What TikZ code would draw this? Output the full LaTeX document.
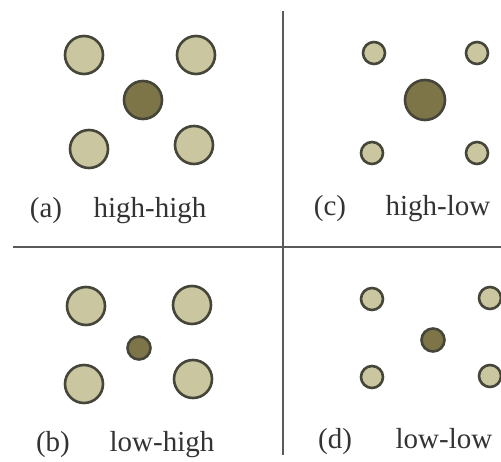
\documentclass[tikz,border=0pt]{standalone}
\usepackage{fontspec}
\setmainfont{Liberation Serif}
\usetikzlibrary{positioning}
\definecolor{grainlight}{HTML}{C9C6A0}
\definecolor{graindark}{HTML}{7D7548}
\definecolor{grainedge}{HTML}{45453A}
\definecolor{divider}{HTML}{5A5A5A}
\definecolor{labelgray}{HTML}{333333}

\begin{document}
\begin{tikzpicture}[x=1pt, y=-1pt,
    grain/.style={fill=grainlight, draw=grainedge, line width=2.6pt},
    core/.style={fill=graindark, draw=grainedge, line width=2.6pt},
    lbl/.style={anchor=base, text=labelgray, inner sep=0pt, font=\fontsize{29}{32}\selectfont}]
  \useasboundingbox (0,0) rectangle (501,462);

  % Trennlinien
  \draw[line width=2pt, divider] (283,11) -- (283,455);
  \draw[line width=2pt, divider] (13,247) -- (501,247);

  % (a) high-high
  \draw[grain] (84,55) circle (19);
  \draw[grain] (196,55) circle (19);
  \draw[core] (143,100) circle (19);
  \draw[grain] (89,149) circle (19);
  \draw[grain] (194,145) circle (19);
  \node[lbl] (tagA) at (46,218) {(a)};
  \node[lbl] (nameA) at (150,218) {high-high};

  % (c) high-low
  \draw[grain] (374,53) circle (11);
  \draw[grain] (477,53) circle (11);
  \draw[core] (425,100) circle (20);
  \draw[grain] (372,153) circle (11);
  \draw[grain] (477,153) circle (11);
  \node[lbl] (tagC) at (330,216) {(c)};
  \node[lbl] (nameC) at (438,216) {high-low};

  % (b) low-high
  \draw[grain] (86,306) circle (19);
  \draw[grain] (192,305) circle (19);
  \draw[core] (139,348) circle (11.5);
  \draw[grain] (84,384) circle (19);
  \draw[grain] (193,379) circle (19);
  \node[lbl] (tagB) at (53,451) {(b)};
  \node[lbl] (nameB) at (162,451) {low-high};

  % (d) low-low
  \draw[grain] (372,299) circle (11);
  \draw[grain] (490,298) circle (11);
  \draw[core] (433,340) circle (11.5);
  \draw[grain] (372,377) circle (11);
  \draw[grain] (490,376) circle (11);
  \node[lbl] (tagD) at (335,448) {(d)};
  \node[lbl] (nameD) at (444,448) {low-low};
\end{tikzpicture}
\end{document}
